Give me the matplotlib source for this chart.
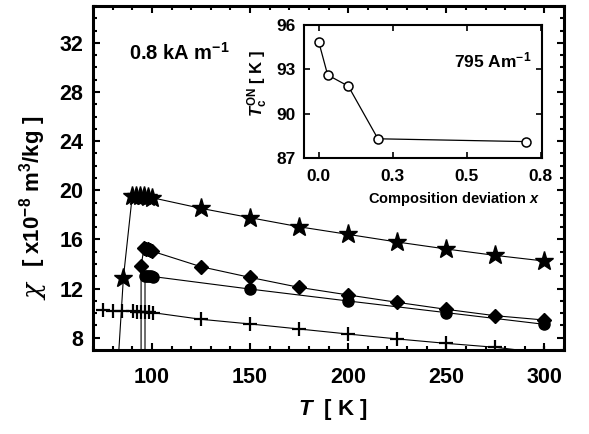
import matplotlib
matplotlib.use("Agg")
import matplotlib.pyplot as plt
from matplotlib.ticker import MultipleLocator, FixedLocator, FixedFormatter

plt.rcParams['font.family'] = ['Liberation Sans', 'DejaVu Sans']
plt.rcParams['font.weight'] = 'bold'
plt.rcParams['mathtext.fontset'] = 'custom'
plt.rcParams['mathtext.rm'] = 'Liberation Sans:bold'
plt.rcParams['mathtext.it'] = 'Liberation Sans:bold:italic'
plt.rcParams['mathtext.bf'] = 'Liberation Sans:bold'

# ---- data: main panel ----
stars_T = [82, 85.5, 90, 92, 94, 96, 98, 100, 125, 150, 175, 200, 225, 250, 275, 300]
stars_chi = [4.0, 12.9, 19.55, 19.55, 19.5, 19.5, 19.45, 19.4, 18.53, 17.77, 17.03,
             16.41, 15.79, 15.22, 14.70, 14.24]

diam_T = [94.5, 94.5, 96, 97, 98, 99, 100, 125, 150, 175, 200, 225, 250, 275, 300]
diam_chi = [0.0, 13.85, 15.3, 15.25, 15.2, 15.12, 15.05, 13.78, 12.91, 12.10, 11.48,
            10.88, 10.31, 9.79, 9.44]

circ_T = [96.5, 96.5, 97.5, 98.5, 99.5, 100.5, 150, 200, 250, 300]
circ_chi = [0.0, 13.05, 13.03, 13.0, 13.0, 12.98, 11.96, 10.99, 10.04, 9.09]

cross_T = [75, 80, 85, 90.5, 92.5, 94.5, 96.5, 98.5, 100.5, 125, 150, 175, 200, 225,
           250, 275, 300]
cross_chi = [10.22, 10.2, 10.18, 10.15, 10.12, 10.1, 10.08, 10.06, 10.04, 9.5, 9.12,
             8.71, 8.30, 7.9, 7.54, 7.22, 6.75]

# ---- data: inset ----
dev_x = [0.0, 0.03, 0.10, 0.20, 0.70]
tc_on = [94.85, 92.62, 91.86, 88.3, 88.11]
inset_xticks = [0.0, 0.25, 0.5, 0.75]
inset_xticklabels = ["0.0", "0.3", "0.5", "0.8"]
inset_yticks = [87, 90, 93, 96]

fig = plt.figure(figsize=(5.89, 4.34), dpi=100)
ax = fig.add_axes([93/589, 1-350/434, (564-93)/589, (350-6)/434])

ax.plot(stars_T, stars_chi, color='black', lw=0.8, marker='*', ms=14,
        mfc='black', mec='black')
ax.plot(diam_T, diam_chi, color='black', lw=0.8, marker='D', ms=7,
        mfc='black', mec='black')
ax.plot(circ_T, circ_chi, color='black', lw=0.8, marker='o', ms=8,
        mfc='black', mec='black')
ax.plot(cross_T, cross_chi, color='black', lw=0.8, marker='+', ms=10, mew=1.6,
        mec='black')

ax.set_xlim(70, 310)
ax.set_ylim(7, 35)
ax.xaxis.set_major_locator(MultipleLocator(50))
ax.xaxis.set_minor_locator(MultipleLocator(10))
ax.yaxis.set_major_locator(FixedLocator([8, 12, 16, 20, 24, 28, 32]))
ax.yaxis.set_minor_locator(MultipleLocator(1))
for s in ax.spines.values():
    s.set_linewidth(2.2)
ax.tick_params(which='both', direction='in', top=True, right=True, width=1.5)
ax.tick_params(which='major', length=5, labelsize=15.5)
ax.tick_params(which='minor', length=2.8)
ax.tick_params(axis='x', which='major', pad=12)
ax.tick_params(axis='y', which='major', pad=7)
for lab in ax.get_xticklabels() + ax.get_yticklabels():
    lab.set_fontweight('bold')

fig.text(35/589, 1-292/434, "χ", rotation=90, ha='center', va='center',
         fontsize=19, family=['DejaVu Serif'], style='italic', fontweight='normal')
fig.text(33/589, 1-191/434, "[ x10$^{-8}$ m$^{3}$/kg ]", rotation=90,
         ha='center', va='center', fontsize=16, fontweight='bold')
fig.text(333/589, 1-410/434, "$T$  [ K ]", ha='center', va='center',
         fontsize=16, fontweight='bold')
fig.text(129/589, 1-53/434, "0.8 kA m$^{-1}$", ha='left', va='center',
         fontsize=14.5, fontweight='bold')

# ---- inset ----
ins = fig.add_axes([304/589, 1-158/434, (542-304)/589, (158-25)/434])
ins.plot(dev_x, tc_on, color='black', lw=0.9, marker='o', ms=6.5, mfc='white',
         mec='black', mew=1.1)
ins.set_xlim(-0.05, 0.755)
ins.set_ylim(87, 96)
ins.xaxis.set_major_locator(FixedLocator(inset_xticks))
ins.xaxis.set_major_formatter(FixedFormatter(inset_xticklabels))
ins.yaxis.set_major_locator(FixedLocator(inset_yticks))
for s in ins.spines.values():
    s.set_linewidth(1.5)
ins.tick_params(which='major', direction='in', top=True, right=True, width=1.2,
                length=4, labelsize=12.5)
ins.tick_params(axis='x', pad=8)
ins.tick_params(axis='y', pad=6)
for lab in ins.get_xticklabels() + ins.get_yticklabels():
    lab.set_fontweight('bold')
fig.text(454/589, 1-199/434, "Composition deviation $x$", ha='center', va='center',
         fontsize=10.5, fontweight='bold')
fig.text(258/589, 1-83/434, "$T_{\\mathrm{c}}^{\\mathrm{ON}}$ [ K ]", rotation=90,
         ha='center', va='center', fontsize=12, fontweight='bold')
fig.text(493/589, 1-60/434, "795 Am$^{-1}$", ha='center', va='center',
         fontsize=12.5, fontweight='bold')

fig.savefig("out.png", dpi=100)
